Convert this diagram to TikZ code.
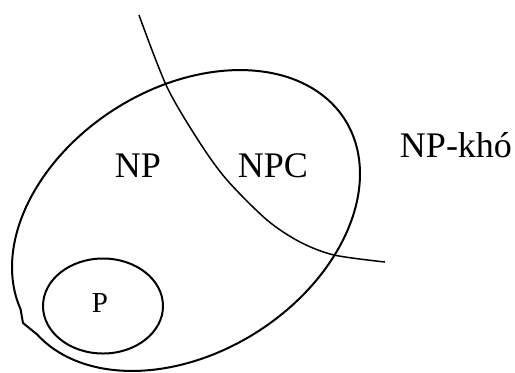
\documentclass[tikz,border=0pt]{standalone}
\usepackage{fontspec}
\setmainfont{Liberation Serif}
\begin{document}
\begin{tikzpicture}[x=0.5pt, y=-0.5pt,
    setline/.style={line width=1pt},
    hardline/.style={line width=0.75pt},
    biglbl/.style={font=\fontsize{18}{20}\selectfont, anchor=base, inner sep=0pt},
    smalllbl/.style={font=\fontsize{14.5}{16}\selectfont, anchor=base, inner sep=0pt}]
    \useasboundingbox (0,0) rectangle (515,372);

    % tap NP (elip nghieng, co goc nhon o duoi trai)
    \coordinate (kink) at (23,323);
    \draw[setline] (kink) -- plot[domain=186:533, samples=140, smooth]
        ({186+158.9*cos(\x)+70.9*sin(\x)}, {220.5-100.9*cos(\x)+111.6*sin(\x)}) -- cycle;

    % tap P
    \draw[setline] (103,306) ellipse [x radius=60, y radius=47.5];

    % duong NP-kho
    \draw[hardline] plot[smooth] coordinates {(139,15) (167,87) (200,143) (227,180) (267,220) (300,242) (334,255) (385,262)};

    % nhan
    \node[biglbl] (np) at (138,177) {NP};
    \node[biglbl] (npc) at (273,177) {NPC};
    \node[biglbl] (nphard) at (456,157) {NP-khó};
    \node[smalllbl] (p) at (100,312) {P};
\end{tikzpicture}
\end{document}
